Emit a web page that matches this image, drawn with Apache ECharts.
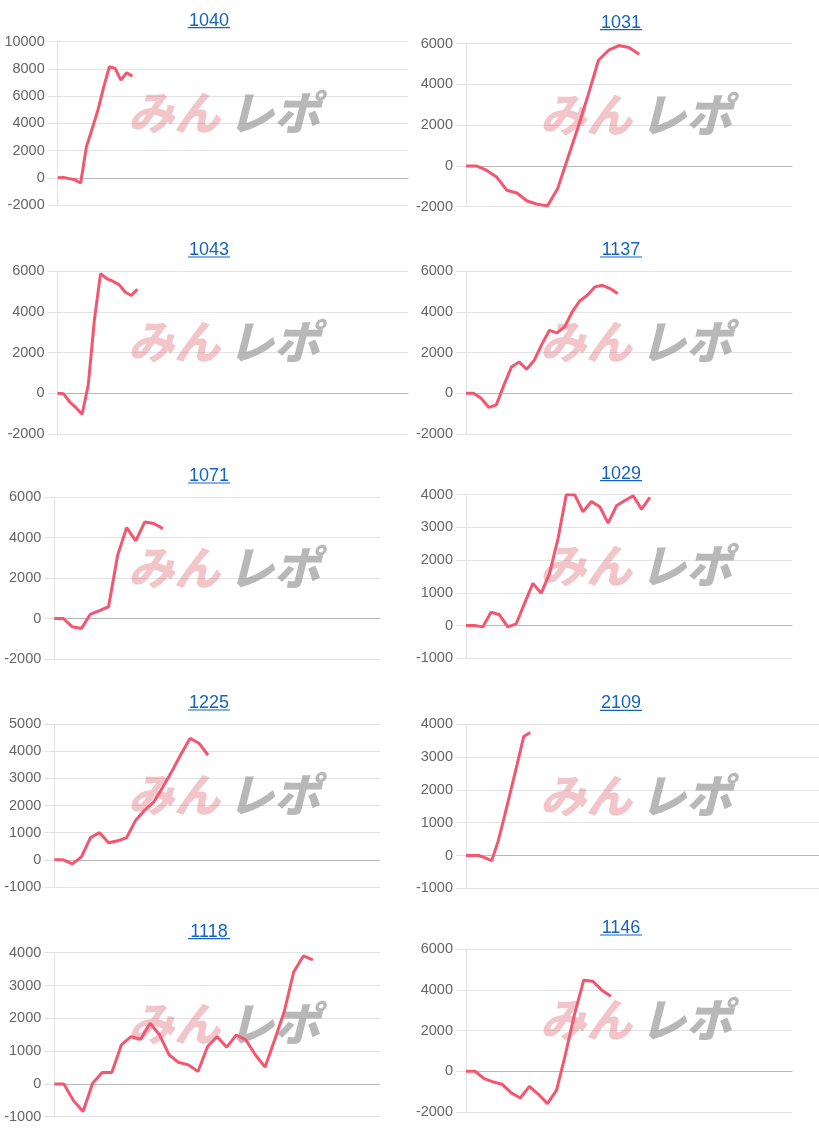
<!DOCTYPE html>
<html>
<head>
<meta charset="utf-8">
<script src="https://cdn.jsdelivr.net/npm/echarts@6/dist/echarts.min.js"></script>
<style>
html,body{margin:0;padding:0;background:#fff;}
#c{width:819px;height:1130px;}
</style>
</head>
<body>
<div id="c"></div>
<script>
// ---- data ----
const titles = ['1040','1031','1043','1137','1071','1029','1225','2109','1118','1146'];
const s1040 = [0, 30, -60, -150, -380, 2280, 3600, 4970, 6640, 8160, 8040, 7180, 7720, 7470];
const s1031 = [0, 0, -210, -540, -1190, -1330, -1720, -1880, -1960, -1110, 400, 1900, 3500, 5190, 5680, 5910, 5810, 5480];
const s1043 = [0, -30, -430, -710, -1030, 400, 3600, 5870, 5630, 5500, 5330, 4970, 4800, 5100];
const s1137 = [0, 0, -250, -690, -570, 400, 1290, 1540, 1180, 1620, 2400, 3090, 2960, 3260, 3990, 4530, 4810, 5220, 5300, 5140, 4890];
const s1071 = [0, 0, -410, -490, 220, 390, 580, 3130, 4490, 3830, 4770, 4690, 4440];
const s1029 = [0, 0, -40, 410, 330, -40, 50, 680, 1290, 990, 1600, 2650, 4000, 4000, 3480, 3790, 3630, 3130, 3660, 3820, 3970, 3560, 3920];
const s1225 = [0, 0, -150, 110, 820, 1000, 630, 700, 820, 1460, 1830, 2130, 2680, 3260, 3890, 4470, 4290, 3850];
const s2109 = [0, 0, 0, -70, -160, 430, 1200, 2000, 2810, 3630, 3750];
const s1118 = [0, 0, -510, -840, 20, 350, 350, 1190, 1440, 1360, 1850, 1490, 880, 650, 580, 380, 1140, 1440, 1120, 1490, 1340, 880, 510, 1340, 2200, 3420, 3900, 3780];
const s1146 = [0, 0, -360, -520, -640, -1060, -1310, -740, -1130, -1590, -930, 870, 2830, 4470, 4420, 3980, 3680];
const seriesData = [s1040, s1031, s1043, s1137, s1071, s1029, s1225, s2109, s1118, s1146];
// number of x slots (categories) on each chart's axis
const xSlots = [62, 33, 58, 44, 37, 40, 37, 56, 35, 37];
// y axis tick setup
const yMin  = [-2000, -2000, -2000, -2000, -2000, -1000, -1000, -1000, -1000, -2000];
const yMax  = [10000, 6000, 6000, 6000, 6000, 4000, 5000, 4000, 4000, 6000];
const yStep = [2000, 2000, 2000, 2000, 2000, 1000, 1000, 1000, 1000, 2000];
const watermarkA = 'みん';
const watermarkB = 'レポ';

// ---- layout (pixels) ----
const layout = [
  {l:57.7, t:41.7, w:350.3, h:163.3, cx:209},
  {l:466,  t:43.7, w:326,   h:163,   cx:621},
  {l:57.5, t:271,  w:350.5, h:163,   cx:209},
  {l:466,  t:271,  w:326,   h:163,   cx:621},
  {l:54.3, t:497,  w:325.7, h:162,   cx:209},
  {l:466,  t:494.7,w:326,   h:163.6, cx:621},
  {l:54.3, t:724,  w:325.7, h:163,   cx:209},
  {l:466,  t:724.3,w:353,   h:164,   cx:621},
  {l:54.3, t:952.7,w:325.7, h:164,   cx:209},
  {l:466,  t:949,  w:326,   h:163,   cx:621}
];

const FONT = '"Liberation Sans", Arial, sans-serif';
const LINK = '#1565c0';
const WMFONT = 'italic 900 46px "Noto Sans CJK JP", sans-serif';
const grids = [], xAxes = [], yAxes = [], series = [], graphics = [];

layout.forEach((p, i) => {
  grids.push({left:p.l, top:p.t, width:p.w, height:p.h, containLabel:false});
  const cats = Array.from({length:xSlots[i]}, (_, k) => String(k + 1));
  xAxes.push({
    type:'category', gridIndex:i, data:cats, boundaryGap:false,
    axisLine:{show:true, onZero:true, lineStyle:{color:'#b8b8b8', width:1}},
    axisTick:{show:false}, axisLabel:{show:false}, splitLine:{show:false}
  });
  yAxes.push({
    type:'value', gridIndex:i, min:yMin[i], max:yMax[i], interval:yStep[i],
    axisLine:{show:true, lineStyle:{color:'#e3e3e3'}},
    axisTick:{show:true, length:10, lineStyle:{color:'#e3e3e3'}},
    axisLabel:{color:'#666', fontSize:14.5, fontFamily:FONT, margin:13, formatter:(v) => String(v)},
    splitLine:{show:true, lineStyle:{color:'#e3e3e3', width:1}}
  });
  series.push({
    type:'line', xAxisIndex:i, yAxisIndex:i, data:seriesData[i],
    showSymbol:false, symbol:'none', smooth:false,
    lineStyle:{color:'#f5566f', width:3}, z:5
  });
  const baseline = p.t - 16;
  graphics.push({
    type:'text', x:p.cx, y:baseline + 4, z:10,
    style:{text:titles[i], fill:LINK, font:'18px ' + FONT, align:'center', verticalAlign:'bottom'}
  });
  graphics.push({
    type:'line', z:10,
    shape:{x1:p.cx - 21, y1:baseline + 2, x2:p.cx + 21, y2:baseline + 2},
    style:{stroke:LINK, lineWidth:1.2}
  });
  const wx = (p.cx < 400) ? 128 : 540;
  const wy = p.t + 71;
  graphics.push({
    type:'text', x:wx, y:wy, z:1, silent:true,
    style:{text:watermarkA, fill:'rgba(215,95,105,0.36)', font:WMFONT, align:'left', verticalAlign:'middle'}
  });
  graphics.push({
    type:'text', x:wx + 100, y:wy, z:1, silent:true,
    style:{text:watermarkB, fill:'rgba(140,140,140,0.62)', font:WMFONT, align:'left', verticalAlign:'middle'}
  });
});

const chart = echarts.init(document.getElementById('c'), null, {renderer:'canvas'});
chart.setOption({
  animation:false,
  grid:grids, xAxis:xAxes, yAxis:yAxes, series:series,
  graphic:{elements:graphics}
});
</script>
</body>
</html>
